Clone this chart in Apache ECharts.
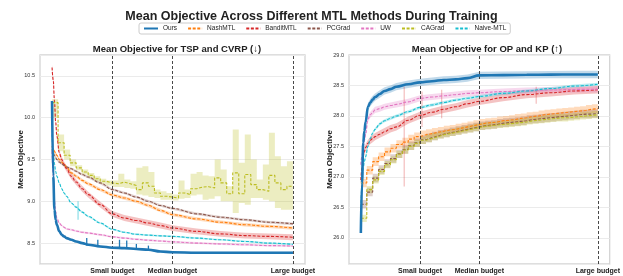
<!DOCTYPE html>
<html>
<head>
<meta charset="utf-8">
<script src="https://cdn.jsdelivr.net/npm/echarts@6/dist/echarts.min.js"></script>
<style>
html, body { margin: 0; padding: 0; background: #fff; }
#chart { width: 623px; height: 276px; }
</style>
</head>
<body>
<div id="chart"></div>
<script>
var methods = ['Ours', 'NashMTL', 'BanditMTL', 'PCGrad', 'UW', 'CAGrad', 'Naive-MTL'];
var colors = ['#1f77b4', '#ff7f0e', '#d62728', '#8c564b', '#e377c2', '#bcbd22', '#17becf'];
var budgetEpochs = [25, 50, 100];
var budgetNames = ['Small budget', 'Median budget', 'Large budget'];

// sampled epochs for the smooth curves
var epochs = [0, 0.5, 1, 1.5, 2, 3, 4, 5, 6, 8, 10, 12.5, 15, 20, 25, 30, 35, 40, 45, 50, 60, 70, 80, 90, 100];
// evaluation checkpoints for the step-like curves
var stepEpochs = [0, 2.5, 5, 7.5, 10, 12.5, 15, 17.5, 20, 22.5, 25, 27.5, 30, 32.5, 35, 37.5, 40, 42.5, 45, 47.5,
  50, 52.5, 55, 57.5, 60, 62.5, 65, 67.5, 70, 72.5, 75, 77.5, 80, 82.5, 85, 87.5, 90, 92.5, 95, 97.5, 100];

// TSP and CVRP (lower is better)
var tspOurs = [10.2, 9.3, 8.9, 8.78, 8.72, 8.64, 8.6, 8.58, 8.56, 8.54, 8.52, 8.5, 8.48, 8.46, 8.445, 8.44, 8.43, 8.42, 8.40, 8.39, 8.385, 8.385, 8.385, 8.385, 8.385];
var tspNash = [9.66, 9.62, 9.6, 9.57, 9.55, 9.5, 9.47, 9.44, 9.41, 9.34, 9.3, 9.25, 9.21, 9.14, 9.075, 9.04, 9.0, 8.95, 8.89, 8.84, 8.79, 8.75, 8.72, 8.7, 8.68];
var tspBandit = [10.6, 10.45, 10.2, 9.95, 9.78, 9.58, 9.5, 9.44, 9.39, 9.3, 9.23, 9.15, 9.08, 8.96, 8.85, 8.8, 8.77, 8.74, 8.71, 8.68, 8.64, 8.61, 8.59, 8.58, 8.57];
var tspPcgrad = [9.62, 9.58, 9.55, 9.52, 9.5, 9.47, 9.45, 9.43, 9.41, 9.39, 9.36, 9.32, 9.29, 9.22, 9.14, 9.1, 9.05, 9.0, 8.95, 8.915, 8.85, 8.81, 8.78, 8.75, 8.73];
var tspUw = [9.6, 9.3, 9.0, 8.88, 8.8, 8.74, 8.71, 8.69, 8.67, 8.66, 8.645, 8.63, 8.62, 8.6, 8.575, 8.56, 8.545, 8.535, 8.525, 8.515, 8.5, 8.49, 8.48, 8.47, 8.465];
var tspNaive = [9.8, 9.6, 9.45, 9.36, 9.3, 9.22, 9.15, 9.1, 9.06, 8.98, 8.93, 8.87, 8.82, 8.74, 8.665, 8.63, 8.605, 8.595, 8.587, 8.58, 8.56, 8.54, 8.52, 8.5, 8.485];
var tspCagrad = [10.18, 9.70, 9.55, 9.46, 9.40, 9.35, 9.31, 9.27, 9.24, 9.22, 9.21, 9.23, 9.21, 9.19, 9.14, 9.22, 9.18, 9.10, 9.06, 9.05,
  9.04, 9.10, 9.08, 9.15, 9.17, 9.175, 9.16, 9.28, 9.22, 9.09, 9.34, 9.09, 9.32, 9.20, 9.14, 9.12, 9.31, 9.22, 9.14, 9.18, 9.18];
var tspCagradLo = [10.00, 9.60, 9.50, 9.42, 9.37, 9.32, 9.28, 9.24, 9.21, 9.19, 9.17, 9.17, 9.16, 9.15, 9.08, 9.07, 9.05, 9.04, 9.02, 9.02,
  9.01, 9.03, 9.04, 9.07, 9.08, 9.02, 9.03, 9.06, 9.00, 9.00, 8.86, 8.98, 8.96, 9.04, 9.04, 9.02, 9.00, 8.92, 8.90, 8.90, 8.90];
var tspCagradHi = [10.22, 9.80, 9.62, 9.50, 9.43, 9.38, 9.34, 9.30, 9.27, 9.25, 9.25, 9.33, 9.26, 9.24, 9.40, 9.42, 9.35, 9.14, 9.12, 9.10,
  9.08, 9.25, 9.14, 9.33, 9.35, 9.31, 9.30, 9.50, 9.38, 9.18, 9.86, 9.46, 9.80, 9.50, 9.26, 9.44, 9.82, 9.54, 9.42, 9.48, 9.48];
var tspSpread = [0.012, 0.02, 0.035, 0.015, 0.012, 0, 0.01];
// isolated noisy evaluations (epoch, low, high)
var tspOursSpikeEpochs = [14.4, 19, 28, 31, 35, 40];
var tspOursSpikeLo = [8.47, 8.46, 8.44, 8.44, 8.43, 8.42];
var tspOursSpikeHi = [8.56, 8.54, 8.54, 8.53, 8.49, 8.47];
var tspNaiveSpikeEpochs = [10.8];
var tspNaiveSpikeLo = [8.78];
var tspNaiveSpikeHi = [9.0];

// OP and KP (higher is better)
var opOurs = [26.08, 26.9, 27.56, 27.75, 27.9, 28.15, 28.22, 28.27, 28.31, 28.36, 28.41, 28.44, 28.48, 28.52, 28.55, 28.57, 28.59, 28.6, 28.62, 28.665, 28.67, 28.675, 28.678, 28.68, 28.68];
var opBandit = [26.95, 27.15, 27.35, 27.42, 27.48, 27.55, 27.6, 27.63, 27.66, 27.7, 27.74, 27.79, 27.82, 27.93, 28.01, 28.06, 28.11, 28.15, 28.2, 28.24, 28.3, 28.35, 28.38, 28.41, 28.43];
var opUw = [27.2, 27.35, 27.5, 27.6, 27.7, 27.95, 28.02, 28.06, 28.1, 28.12, 28.15, 28.17, 28.19, 28.23, 28.29, 28.31, 28.33, 28.35, 28.37, 28.38, 28.4, 28.415, 28.425, 28.435, 28.44];
var opNaive = [26.5, 26.9, 27.15, 27.25, 27.33, 27.5, 27.63, 27.72, 27.78, 27.87, 27.92, 27.96, 28.0, 28.07, 28.14, 28.18, 28.22, 28.26, 28.29, 28.32, 28.37, 28.41, 28.45, 28.49, 28.52];
var opNash = [26.9, 27.11, 27.25, 27.33, 27.41, 27.47, 27.53, 27.57, 27.62, 27.66, 27.69, 27.71, 27.73, 27.75, 27.77, 27.78, 27.8, 27.82, 27.84, 27.86,
  27.88, 27.89, 27.9, 27.92, 27.93, 27.94, 27.96, 27.97, 27.99, 28.0, 28.02, 28.03, 28.04, 28.05, 28.06, 28.07, 28.08, 28.09, 28.11, 28.12, 28.13];
var opPcgrad = [26.55, 26.75, 26.98, 27.12, 27.22, 27.3, 27.38, 27.45, 27.51, 27.56, 27.61, 27.64, 27.67, 27.7, 27.72, 27.74, 27.76, 27.78, 27.8, 27.82,
  27.84, 27.85, 27.86, 27.88, 27.89, 27.9, 27.91, 27.92, 27.94, 27.95, 27.96, 27.97, 27.98, 27.99, 28.0, 28.01, 28.02, 28.03, 28.03, 28.04, 28.05];
var opCagrad = [26.32, 26.79, 26.95, 27.09, 27.2, 27.28, 27.37, 27.44, 27.5, 27.55, 27.6, 27.63, 27.66, 27.69, 27.71, 27.73, 27.75, 27.77, 27.79, 27.81,
  27.83, 27.84, 27.85, 27.86, 27.87, 27.88, 27.89, 27.9, 27.92, 27.93, 27.94, 27.95, 27.96, 27.97, 27.97, 27.98, 27.99, 28.0, 28.01, 28.02, 28.02];
var opSpread = [0.06, 0.07, 0.06, 0.07, 0.05, 0.06, 0.025];
var opBanditSpikeEpochs = [18.3, 25.8, 34.1, 74];
var opBanditSpikeLo = [26.84, 27.82, 27.96, 28.2];
var opBanditSpikeHi = [28.48, 28.4, 28.43, 28.48];

var FONT = 'Liberation Sans, Arial, sans-serif';

function pairs(xs, ys) {
  return xs.map(function (x, i) { return [x, ys[i]]; });
}

// shaded spread drawn as one polygon through the axis scales
function band(grid, xs, lo, hi, color, step) {
  return {
    type: 'custom', xAxisIndex: grid, yAxisIndex: grid, silent: true, z: 1,
    data: [[xs[0], lo[0]]],
    renderItem: function (params, api) {
      var top = [], bottom = [];
      for (var i = 0; i < xs.length; i++) {
        if (step && i > 0) {
          top.push(api.coord([xs[i], hi[i - 1]]));
          bottom.push(api.coord([xs[i], lo[i - 1]]));
        }
        top.push(api.coord([xs[i], hi[i]]));
        bottom.push(api.coord([xs[i], lo[i]]));
      }
      return {
        type: 'polygon',
        shape: { points: top.concat(bottom.reverse()) },
        style: { fill: color, opacity: 0.28 }
      };
    }
  };
}

// vertical noise spikes
function spikes(grid, xs, lo, hi, color, width, opacity, z) {
  return {
    type: 'custom', xAxisIndex: grid, yAxisIndex: grid, silent: true, z: z,
    data: xs.map(function (x, i) { return [x, lo[i], hi[i]]; }),
    renderItem: function (params, api) {
      var a = api.coord([api.value(0), api.value(1)]);
      var b = api.coord([api.value(0), api.value(2)]);
      return {
        type: 'line',
        shape: { x1: a[0], y1: a[1], x2: b[0], y2: b[1] },
        style: { stroke: color, lineWidth: width, opacity: opacity }
      };
    }
  };
}

function curve(grid, idx, xs, ys, step) {
  var ours = idx === 0;
  return {
    type: 'line', name: methods[idx], xAxisIndex: grid, yAxisIndex: grid,
    data: pairs(xs, ys), symbol: 'none',
    step: step ? 'end' : false, smooth: step ? false : 0.4, smoothMonotone: 'x',
    lineStyle: { color: colors[idx], width: ours ? 2.6 : 1.1, type: ours ? 'solid' : [3, 1.6] },
    itemStyle: { color: colors[idx] },
    z: ours ? 6 : 4
  };
}

function withSpread(ys, s, sign) {
  return ys.map(function (v) { return v + sign * s; });
}

var series = [];
var bands = [];

// left panel
var tspLists = [tspOurs, tspNash, tspBandit, tspPcgrad, tspUw, null, tspNaive];
tspLists.forEach(function (ys, i) {
  if (!ys) return;
  bands.push(band(0, epochs, withSpread(ys, tspSpread[i], -1), withSpread(ys, tspSpread[i], 1), colors[i], false));
  series.push(curve(0, i, epochs, ys, false));
});
bands.push(band(0, stepEpochs, tspCagradLo, tspCagradHi, colors[5], true));
series.push(curve(0, 5, stepEpochs, tspCagrad, true));
bands.push(spikes(0, tspNaiveSpikeEpochs, tspNaiveSpikeLo, tspNaiveSpikeHi, colors[6], 1.2, 0.5, 2));
series.push(spikes(0, tspOursSpikeEpochs, tspOursSpikeLo, tspOursSpikeHi, colors[0], 1.3, 1, 6));

// right panel
var opLists = [
  [opOurs, false], [opNash, true], [opBandit, false], [opPcgrad, true],
  [opUw, false], [opCagrad, true], [opNaive, false]
];
opLists.forEach(function (item, i) {
  var ys = item[0], step = item[1];
  var xs = step ? stepEpochs : epochs;
  bands.push(band(1, xs, withSpread(ys, opSpread[i], -1), withSpread(ys, opSpread[i], 1), colors[i], step));
  series.push(curve(1, i, xs, ys, step));
});
bands.push(spikes(1, opBanditSpikeEpochs, opBanditSpikeLo, opBanditSpikeHi, colors[2], 1.2, 0.3, 2));

// budget markers
[0, 1].forEach(function (g) {
  series.push({
    type: 'line', xAxisIndex: g, yAxisIndex: g, data: [], silent: true,
    markLine: {
      symbol: 'none', silent: true, label: { show: false },
      lineStyle: { color: '#333', type: [3, 2], width: 0.9 },
      data: budgetEpochs.map(function (e) { return { xAxis: e }; })
    }
  });
});

// baselines first, Ours last
series.sort(function (a, b) { return (a.z || 0) - (b.z || 0); });
var allSeries = bands.concat(series);

function xAxisFor(g) {
  return {
    gridIndex: g, type: 'value', min: -5, max: 105,
    axisLine: { show: false }, axisTick: { show: false }, splitLine: { show: false },
    axisLabel: {
      customValues: budgetEpochs, margin: 4,
      fontFamily: FONT, fontSize: 7, fontWeight: 'bold', color: '#222',
      formatter: function (v) { return budgetNames[budgetEpochs.indexOf(v)] || ''; }
    }
  };
}

function yAxisFor(g, min, max, showMax) {
  return {
    gridIndex: g, type: 'value', min: min, max: max, splitNumber: 5,
    name: 'Mean Objective', nameLocation: 'middle', nameGap: 15, nameMoveOverlap: false,
    nameTextStyle: { fontFamily: FONT, fontSize: 8, fontWeight: 'bold', color: '#222' },
    axisLine: { show: false }, axisTick: { show: false },
    splitLine: { lineStyle: { color: '#ebebeb', width: 1 } },
    axisLabel: {
      fontFamily: FONT, fontSize: 5.5, color: '#333', margin: 5,
      showMinLabel: false, showMaxLabel: showMax,
      formatter: function (v) { return v.toFixed(1); }
    }
  };
}

var chart = echarts.init(document.getElementById('chart'));
chart.setOption({
  animation: false,
  backgroundColor: '#fff',
  title: [
    { text: 'Mean Objective Across Different MTL Methods During Training', left: 'center', top: 5,
      textStyle: { fontFamily: FONT, fontSize: 12.5, fontWeight: 'bold', color: '#222' } },
    { text: 'Mean Objective for TSP and CVRP (↓)', left: 172, top: 39, textAlign: 'center',
      textStyle: { fontFamily: FONT, fontSize: 9.5, fontWeight: 'bold', color: '#222' } },
    { text: 'Mean Objective for OP and KP (↑)', left: 482, top: 39, textAlign: 'center',
      textStyle: { fontFamily: FONT, fontSize: 9.5, fontWeight: 'bold', color: '#222' } }
  ],
  legend: {
    data: methods, left: 139, top: 23, itemWidth: 14, itemHeight: 6, itemGap: 10,
    padding: [2, 4], borderColor: '#ccc', borderWidth: 1, borderRadius: 2,
    itemStyle: { opacity: 0 },
    textStyle: { fontFamily: FONT, fontSize: 6.5, color: '#222' }
  },
  grid: [
    { left: 40, right: 318, top: 55, bottom: 12, show: true, borderColor: '#d4d4d4', borderWidth: 1.3 },
    { left: 349, right: 8, top: 55, bottom: 12, show: true, borderColor: '#d4d4d4', borderWidth: 1.3 }
  ],
  xAxis: [xAxisFor(0), xAxisFor(1)],
  yAxis: [yAxisFor(0, 8.25, 10.75, false), yAxisFor(1, 25.57, 29.0, true)],
  series: allSeries
});
</script>
</body>
</html>
